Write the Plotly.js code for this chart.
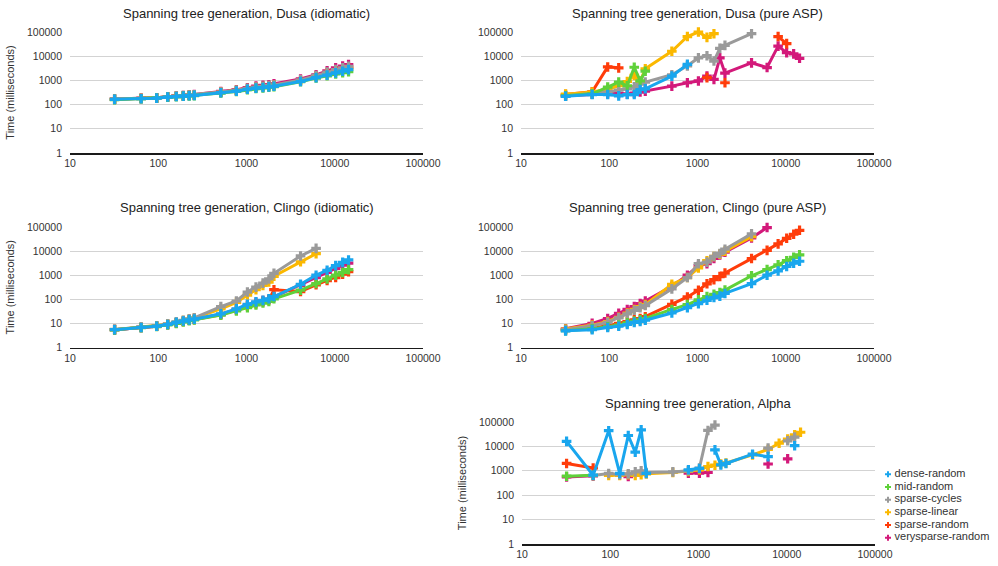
<!DOCTYPE html>
<html>
<head>
<meta charset="utf-8">
<script src="https://cdn.plot.ly/plotly-3.0.1.min.js"></script>
<style>html,body{margin:0;padding:0;background:#fff;}#chart{width:998px;height:566px;}</style>
</head>
<body>
<div id="chart"></div>
<script>
// Graph sizes (x axis)
const sizes = [32,64,96,128,160,192,224,256,512,768,1024,1280,1536,1792,2048,4096,6144,8192,10240,12288,14336];
const seriesNames = ["dense-random","mid-random","sparse-cycles","sparse-linear","sparse-random","verysparse-random"];
const seriesColors = ["#19a6ee","#5fd13a","#9a9a9a","#fbb800","#ff3c0a","#d3197a"];
const panelTitles = ["Spanning tree generation, Dusa (idiomatic)","Spanning tree generation, Dusa (pure ASP)","Spanning tree generation, Clingo (idiomatic)","Spanning tree generation, Clingo (pure ASP)","Spanning tree generation, Alpha"];
const xTickVals = [10,100,1000,10000,100000];
const xTickText = ["10","100","1000","10000","100000"];
const yTickVals = [1,10,100,1000,10000,100000];
const yTickText = ["1","10","100","1000","10000","100000"];
const yTitle = "Time (milliseconds)";
const _ = null;

// Dusa (idiomatic)
const dusaIdiomatic = {
  "dense-random":      [165,175,185,205,215,225,235,240,310,360,430,480,510,540,570,900,1300,1650,2050,2400,2800],
  "mid-random":        [160,175,185,200,210,220,230,235,300,350,410,460,490,520,550,880,1250,1550,1850,2100,2300],
  "sparse-cycles":     [170,180,190,210,225,235,245,255,330,390,470,530,570,610,650,1050,1600,2200,2800,3300,3800],
  "sparse-linear":     [165,178,188,208,220,230,240,250,320,380,450,510,550,590,620,980,1450,1900,2400,2800,3200],
  "sparse-random":     [168,180,190,210,222,232,242,252,325,385,460,520,560,600,630,1000,1500,2000,2500,2900,3300],
  "verysparse-random": [170,182,192,212,228,238,250,260,350,410,500,580,620,660,720,1150,1700,2500,3300,3900,4500]
};
// Dusa (pure ASP)
const dusaPure = {
  "dense-random":      [220,260,260,230,260,260,420,450,1500,4600,_,_,_,_,_,_,_,_,_,_,_],
  "mid-random":        [230,280,530,850,600,3500,950,2400,_,_,_,_,_,_,_,_,_,_,_,_,_],
  "sparse-cycles":     [230,280,330,400,450,550,700,850,1700,4000,8500,10500,6300,21000,28000,85000,_,_,_,_,_],
  "sparse-linear":     [270,330,430,600,900,1600,900,3000,16000,65000,100000,60000,85000,_,_,_,_,_,_,_,_],
  "sparse-random":     [260,340,3600,3300,_,_,_,_,_,_,_,1300,_,_,800,_,_,65000,33000,_,_],
  "verysparse-random": [230,270,280,290,270,300,330,360,580,800,950,1500,1100,8500,2000,5300,3400,26000,14000,12500,8200]
};
// Clingo (idiomatic)
const clingoIdiomatic = {
  "dense-random":      [5.5,6.8,7.6,9,11,12.5,14,15,25,40,62,78,90,105,130,420,1000,1600,2500,3400,4300],
  "mid-random":        [5.4,6.6,7.4,8.6,10,11.5,13,14,22,33,45,58,70,82,105,240,450,700,1000,1300,1700],
  "sparse-cycles":     [5.6,7,8,9.5,11.5,13.5,15.5,17,50,85,200,320,470,700,1200,6300,13000,_,_,_,_],
  "sparse-linear":     [5.5,6.9,7.9,9.3,11,13,15,16.5,40,75,150,250,380,520,900,3600,7800,_,_,_,_],
  "sparse-random":     [5.5,6.8,7.7,9.1,10.5,12,13.5,14.5,23,36,52,65,80,95,250,210,400,600,800,1100,1400],
  "verysparse-random": [5.5,6.8,7.6,9,10.8,12.3,13.8,15,24,38,58,75,88,100,125,380,800,1300,1900,2600,3200]
};
// Clingo (pure ASP)
const clingoPure = {
  "dense-random":      [4.9,5.5,6.8,7.6,9,11,12,13.5,27,45,66,91,118,135,175,450,1000,1500,2300,3150,3800],
  "mid-random":        [5,6,7.3,8.6,10.5,12.5,14,16,38,60,95,130,160,190,240,950,1700,2700,4000,5500,7000],
  "sparse-cycles":     [5.5,8,11,17,25,35,45,55,270,800,3000,3500,6000,8000,12000,52000,_,_,_,_,_],
  "sparse-linear":     [5.8,8.5,12,18,27,38,50,60,420,800,2000,4000,6000,7500,10000,40000,_,_,_,_,_],
  "sparse-random":     [5.5,6.5,8,10,12,14,16,19,62,125,235,440,650,880,1230,4900,10700,20000,34000,50000,73000],
  "verysparse-random": [6,10,16,26,38,50,66,85,350,1000,2500,3000,5000,7000,9000,35000,95000,_,_,_,_]
};
// Alpha
const alpha = {
  "dense-random":      [16000,660,44000,780,28000,5800,48000,780,_,1100,1250,_,7200,1750,2000,4800,3800,_,_,10700,_],
  "mid-random":        [600,650,_,_,_,_,_,_,_,_,_,_,_,_,_,_,_,_,_,_,_],
  "sparse-cycles":     [_,640,780,700,750,900,1000,850,900,1000,1300,45000,75000,_,_,_,8500,_,17000,24000,_],
  "sparse-linear":     [_,_,650,650,700,650,700,750,850,950,1100,1500,1700,1900,2100,4500,7500,13500,20000,30000,38000],
  "sparse-random":     [2000,1300,_,_,_,_,_,_,_,_,_,_,_,_,_,_,_,_,_,_,_],
  "verysparse-random": [560,620,_,_,580,_,_,_,_,800,800,850,_,_,_,_,1900,_,3100,_,_]
};

const panels = [dusaIdiomatic, dusaPure, clingoIdiomatic, clingoPure, alpha];
const W = 998, H = 566;
// plot-area pixel boxes [left, right, top, bottom]
const boxes = [
  [70, 423, 32, 153],
  [521, 874, 32, 153],
  [70, 423, 227, 347.5],
  [521, 874, 227, 347.5],
  [522, 875, 422, 544]
];
const showYTitle = [true, false, true, false, true];
const font = "Liberation Sans, Arial, Helvetica, sans-serif";

const traces = [];
const layout = {
  width: W, height: H,
  margin: {l:0, r:0, t:0, b:0},
  paper_bgcolor: "#fff", plot_bgcolor: "#fff",
  showlegend: false,
  font: {family: font, size: 10.5, color: "#333"},
  annotations: []
};

const drawOrder = [5,4,3,2,1,0];
panels.forEach((panel, p) => {
  const n = p + 1;
  const xa = "x" + (n === 1 ? "" : n), ya = "y" + (n === 1 ? "" : n);
  const b = boxes[p];
  drawOrder.forEach(s => {
    const name = seriesNames[s];
    traces.push({
      type: "scatter", mode: "lines+markers",
      x: sizes, y: panel[name], name: name,
      xaxis: xa, yaxis: ya,
      connectgaps: false, cliponaxis: false,
      line: {color: seriesColors[s], width: 3},
      marker: {color: seriesColors[s], symbol: "cross", size: 8},
      hoverinfo: "skip"
    });
  });
  layout["xaxis" + (n === 1 ? "" : n)] = {
    type: "log", range: [1, 5], domain: [b[0]/W, b[1]/W], anchor: ya,
    tickvals: xTickVals, ticktext: xTickText, ticks: "",
    showgrid: false, zeroline: false,
    showline: true, linecolor: "#1a1a1a", linewidth: 1.6,
    tickfont: {family: font, size: 10.5, color: "#333"},
    fixedrange: true
  };
  layout["yaxis" + (n === 1 ? "" : n)] = {
    type: "log", range: [0, 5], domain: [1 - b[3]/H, 1 - b[2]/H], anchor: xa,
    tickvals: yTickVals, ticktext: yTickText, ticks: "",
    showgrid: true, gridcolor: "#d3d3d3", gridwidth: 1,
    zeroline: false, showline: false,
    ticklabelstandoff: 7,
    tickfont: {family: font, size: 10.5, color: "#333"},
    title: showYTitle[p] ? {text: yTitle, font: {family: font, size: 11, color: "#333"}, standoff: 10} : {text: ""},
    fixedrange: true
  };
  layout.annotations.push({
    text: panelTitles[p], xref: "paper", yref: "paper",
    x: (b[0] + b[1]) / 2 / W, y: 1 - (b[2] - 19) / H,
    xanchor: "center", yanchor: "middle", showarrow: false,
    font: {family: font, size: 13, color: "#222"}
  });
});

// Legend drawn as a small marker column plus a text column
const legendIdx = seriesNames.map((_, i) => seriesNames.length - 1 - i);
traces.push({
  type: "scatter", mode: "markers",
  x: seriesNames.map(() => 0), y: legendIdx,
  marker: {color: seriesColors, symbol: "cross", size: 5},
  xaxis: "x6", yaxis: "y6", cliponaxis: false, hoverinfo: "skip"
});
traces.push({
  type: "scatter", mode: "text",
  x: seriesNames.map(() => 0.06), y: legendIdx,
  text: seriesNames, textposition: "middle right",
  textfont: {family: font, size: 11, color: "#333"},
  xaxis: "x6", yaxis: "y6", cliponaxis: false, hoverinfo: "skip"
});
layout.xaxis6 = {domain: [888/W, 1], range: [0, 1], visible: false, fixedrange: true, anchor: "y6"};
layout.yaxis6 = {domain: [1 - 544/H, 1 - 468/H], range: [-0.5, 5.5], visible: false, fixedrange: true, anchor: "x6"};

Plotly.newPlot("chart", traces, layout, {displayModeBar: false, staticPlot: true});
</script>
</body>
</html>
